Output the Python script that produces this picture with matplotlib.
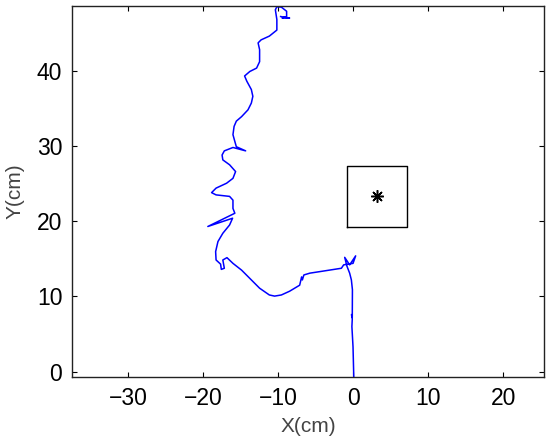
import matplotlib
matplotlib.use('Agg')
import matplotlib.pyplot as plt

# trajectory (cm), from the start at the bottom to the top
path_x = [0.05, -0.05, -0.2, -0.15, -0.25, -0.15, -0.13, -0.27, -0.5, -0.85,
          -1.16, -0.5, 0.3, -0.05, -1.3, -1.6, -4.5, -5.8, -6.6, -6.8,
          -6.9, -7.16, -8.5, -9.6, -10.5, -11.2, -12.5, -13.8, -14.9, -16.05,
          -16.85, -17.4, -17.2, -17.6, -17.7, -18.3, -18.36, -18.05, -17.4, -16.5,
          -16.1, -19.4, -15.8, -16.05, -16.05, -16.5, -18.3, -18.9, -18.3, -16.9,
          -16.05, -15.7, -16.5, -17.4, -17.5, -17.2, -16.05, -14.36, -15.6, -15.8,
          -16.05, -15.9, -15.6, -14.9, -14.05, -13.6, -13.4, -13.6, -14.2, -14.5,
          -13.8, -12.9, -12.5, -12.5, -12.7, -12.3, -11.2, -10.2, -10.2, -10.4,
          -10.2, -9.6, -8.9, -8.9, -9.5, -8.5, -9.7]
path_y = [-0.7, 3.3, 6.0, 7.0, 7.6, 7.2, 10.9, 12.2, 13.1, 14.0,
          15.2, 14.2, 15.4, 14.4, 14.2, 13.75, 13.3, 13.1, 12.86, 12.2,
          12.6, 11.5, 10.7, 10.2, 10.05, 10.2, 11.1, 12.4, 13.5, 14.4,
          15.16, 14.85, 13.75, 13.6, 14.3, 14.85, 15.96, 17.3, 18.4, 19.5,
          20.4, 19.3, 21.06, 21.7, 22.8, 23.3, 23.5, 23.8, 24.4, 25.05,
          25.7, 26.6, 27.5, 28.15, 28.8, 29.35, 29.8, 29.35, 29.9, 30.6,
          31.5, 32.6, 33.3, 33.9, 34.8, 35.7, 36.6, 37.5, 38.6, 39.3,
          39.9, 40.35, 41.2, 42.8, 43.7, 44.1, 44.6, 45.4, 46.8, 48.1,
          48.5, 48.45, 47.9, 47.2, 47.0, 47.0, 47.2]

# target box corners and centre
box_x = [-0.9, 7.15, 7.15, -0.9, -0.9]
box_y = [19.25, 19.25, 27.35, 27.35, 19.25]
target_x = [3.1]
target_y = [23.3]

x_ticks = [-30, -20, -10, 0, 10, 20]
y_ticks = [0, 10, 20, 30, 40]


def draw_path():
    fig = plt.figure(figsize=(5.5, 4.47), dpi=100)
    ax = fig.add_axes([72 / 550, 70 / 447, 472 / 550, 371 / 447])
    ax.plot(path_x, path_y, color='#0000ff', linewidth=1.1)
    ax.plot(box_x, box_y, color='black', linewidth=1.0)
    ax.plot(target_x, target_y, linestyle='none', marker=(8, 2, 0),
            markersize=9, markeredgewidth=1.1, color='black')
    ax.set_xlim(-37.5, 25.4)
    ax.set_ylim(-0.7, 48.6)
    ax.set_xticks(x_ticks)
    ax.set_yticks(y_ticks)
    ax.tick_params(direction='in', length=3.5, width=0.8, top=True, right=True,
                   labelsize=16.5, pad=7, colors='black')
    for sp in ax.spines.values():
        sp.set_linewidth(1.0)
        sp.set_color('#222222')
    ax.set_xlabel('X(cm)', fontsize=15, color='#444444', labelpad=5)
    ax.set_ylabel('Y(cm)', fontsize=15, color='#444444', labelpad=9)
    fig.savefig('out.png', dpi=100)


if __name__ == '__main__':
    plt.rcParams['font.family'] = ['Liberation Sans', 'DejaVu Sans']
    draw_path()
